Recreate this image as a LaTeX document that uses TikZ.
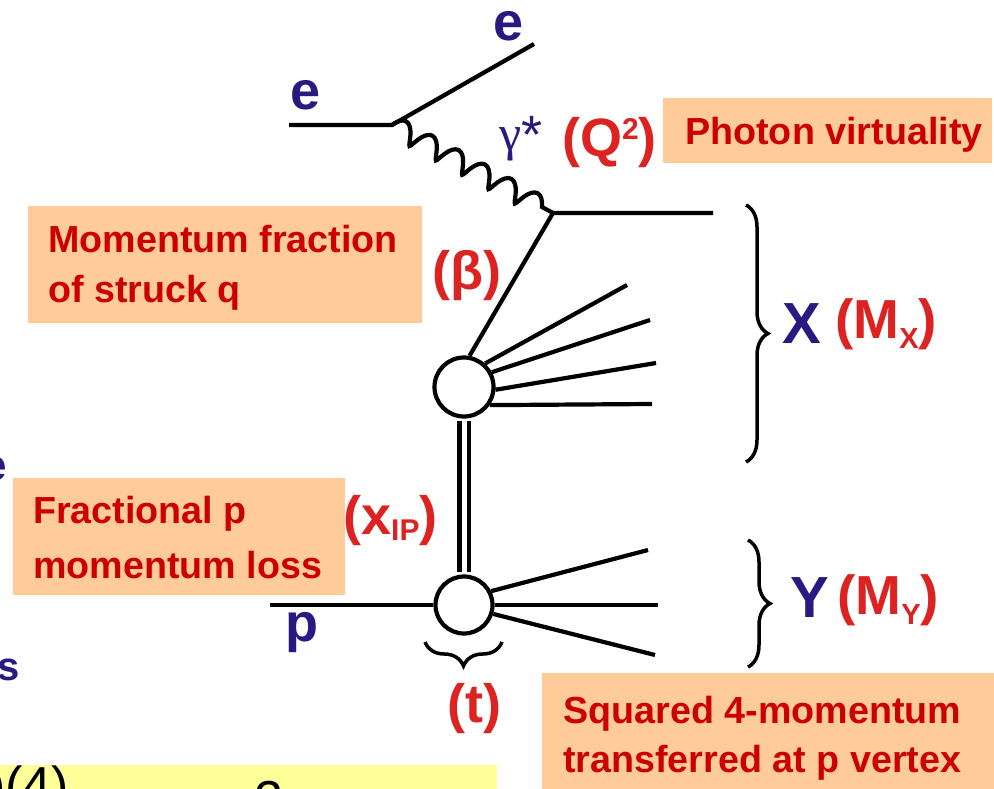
\documentclass[tikz,border=0pt]{standalone}
\usepackage{fontspec}
\setmainfont{Liberation Sans}
\newfontfamily\serifgreek{Liberation Serif}
\usetikzlibrary{decorations.pathmorphing,decorations.pathreplacing}
\definecolor{boxfill}{RGB}{255,204,153}
\definecolor{boxred}{RGB}{204,0,0}
\definecolor{labred}{RGB}{221,34,34}
\definecolor{navy}{RGB}{40,26,128}
\definecolor{yellowbox}{RGB}{255,255,153}
\newcommand\fsz[1]{\fontsize{#1}{#1}\selectfont}
\begin{document}
\begin{tikzpicture}[x=1pt,y=-1pt,
  ln/.style={line width=4.2pt},
  blob/.style={circle,draw,line width=4.2pt,fill=white,inner sep=0pt},
  obox/.style={rectangle,fill=boxfill,draw=none,anchor=north west,inner sep=0pt},
  boxtxt/.style={anchor=base west,inner sep=0pt,text=boxred,font=\fsz{37.7}\bfseries},
  lab/.style={anchor=base west,inner sep=0pt,text=labred,font=\fsz{54}\bfseries},
  mlab/.style={anchor=base west,inner sep=0pt,text=labred,font=\fsz{55}\bfseries},
  blab/.style={anchor=base west,inner sep=0pt,text=navy,font=\fsz{54}\bfseries},
  bigblab/.style={anchor=base west,inner sep=0pt,text=navy,font=\fsz{58}\bfseries},
  bracestyle/.style={line width=3.5pt,decorate},
]
\useasboundingbox (0,0) rectangle (994,789);
\clip (0,0) rectangle (994,789);
\fill[white] (0,0) rectangle (994,789);

% ---- orange boxes ----
\node[obox,minimum width=329pt,minimum height=65pt] (bq) at (663,98) {};
\node[obox,minimum width=394pt,minimum height=117pt] (bb) at (28,206) {};
\node[obox,minimum width=332pt,minimum height=117pt] (bx) at (13,478) {};
\node[obox,minimum width=452pt,minimum height=117pt] (bt) at (542,673) {};
\node[boxtxt] (tq) at (685,145) {Photon virtuality};
\node[boxtxt] (tb1) at (48,252) {Momentum fraction};
\node[boxtxt] (tb2) at (48,302) {of struck q};
\node[boxtxt] (tx1) at (33,523) {Fractional p};
\node[boxtxt] (tx2) at (33,578) {momentum loss};
\node[boxtxt] (tt1) at (563,723) {Squared 4-momentum};
\node[boxtxt] (tt2) at (563,772) {transferred at p vertex};

% ---- fragments at the left and bottom edges ----
\node[anchor=base east,inner sep=0pt,text=navy,font=\fsz{44}\bfseries] (fe) at (7,480) {e};
\node[anchor=base east,inner sep=0pt,text=navy,font=\fsz{40}\bfseries] (fs) at (20,680) {s};
\node[obox,fill=yellowbox,minimum width=497pt,minimum height=30pt] (yb) at (0,765) {};
\node[anchor=north west,inner sep=0pt,font=\fsz{52}] (f4) at (-12,766) {)(4)};
\node[anchor=north west,inner sep=0pt,font=\fsz{52}] (f2) at (254,781) {2};

% ---- diagram points ----
\coordinate (ein) at (289,125);
\coordinate (v1) at (392,125);
\coordinate (eout) at (534,44);
\coordinate (v2) at (553,213);
\coordinate (qout) at (713,213);
\coordinate (pin) at (270,605);
\coordinate (a1) at (627,285);
\coordinate (a2) at (650,320);
\coordinate (a3) at (656,363);
\coordinate (a4) at (652,404);
\coordinate (b1) at (648,550);
\coordinate (b2) at (658,605);
\coordinate (b3) at (655,655);
\node[blob,minimum size=59pt] (U) at (464,387) {};
\node[blob,minimum size=57pt] (L) at (464,605) {};

% ---- lines ----
\draw[ln] (ein) -- (v1) -- (eout);
\draw[ln,decorate,decoration={coil,segment length=30pt,amplitude=10pt,aspect=0.3}] (v1) -- (v2);
\draw[ln] (qout) -- (v2) -- (U.80);
\draw[ln] (U.48) -- (a1);
\draw[ln] (U.28) -- (a2);
\draw[ln] (U.-5) -- (a3);
\draw[ln] (U.-35) -- (a4);
\draw[line width=4.5pt,double,double distance=5pt,shorten <=2pt,shorten >=2pt] (U.south) -- (L.north);
\draw[ln] (pin) -- (L.west);
\draw[ln] (L.27) -- (b1);
\draw[ln] (L.0) -- (b2);
\draw[ln] (L.-17) -- (b3);

% ---- braces ----
\coordinate (xbt) at (746,205);
\coordinate (xbb) at (746,462);
\coordinate (ybt) at (748,540);
\coordinate (ybb) at (748,667);
\coordinate (tbr) at (502,642);
\coordinate (tbl) at (425,642);
\draw[bracestyle,decoration={brace,amplitude=22pt}] (xbt) -- (xbb);
\draw[bracestyle,decoration={brace,amplitude=22pt}] (ybt) -- (ybb);
\draw[bracestyle,decoration={brace,amplitude=24pt}] (tbr) -- (tbl);

% ---- labels ----
\node[blab] (e1) at (290,110) {e};
\node[blab] (e2) at (493,41) {e};
\node[blab] (p) at (285,641) {p};
\node[anchor=base west,inner sep=0pt,text=navy] (gam) at (499,151) {\serifgreek\fsz{50}γ\fontspec{Liberation Sans}\fsz{54}\raisebox{-2pt}{*}};
\node[lab] (Q) at (562,157) {(Q\raisebox{17pt}{\fsz{30}2})};
\node[lab] (beta) at (432,289) {(β)};
\node[lab] (xip) at (343,534) {(x\raisebox{-6pt}{\fsz{30}IP})};
\node[lab] (t) at (447,722) {(t)};
\node[bigblab] (X) at (782,343) {X};
\node[mlab] (MX) at (835,338) {(M\raisebox{-10pt}{\fsz{29}X})};
\node[bigblab] (Y) at (790,617) {Y};
\node[mlab] (MY) at (837,614) {(M\raisebox{-10pt}{\fsz{29}Y})};
\end{tikzpicture}
\end{document}
